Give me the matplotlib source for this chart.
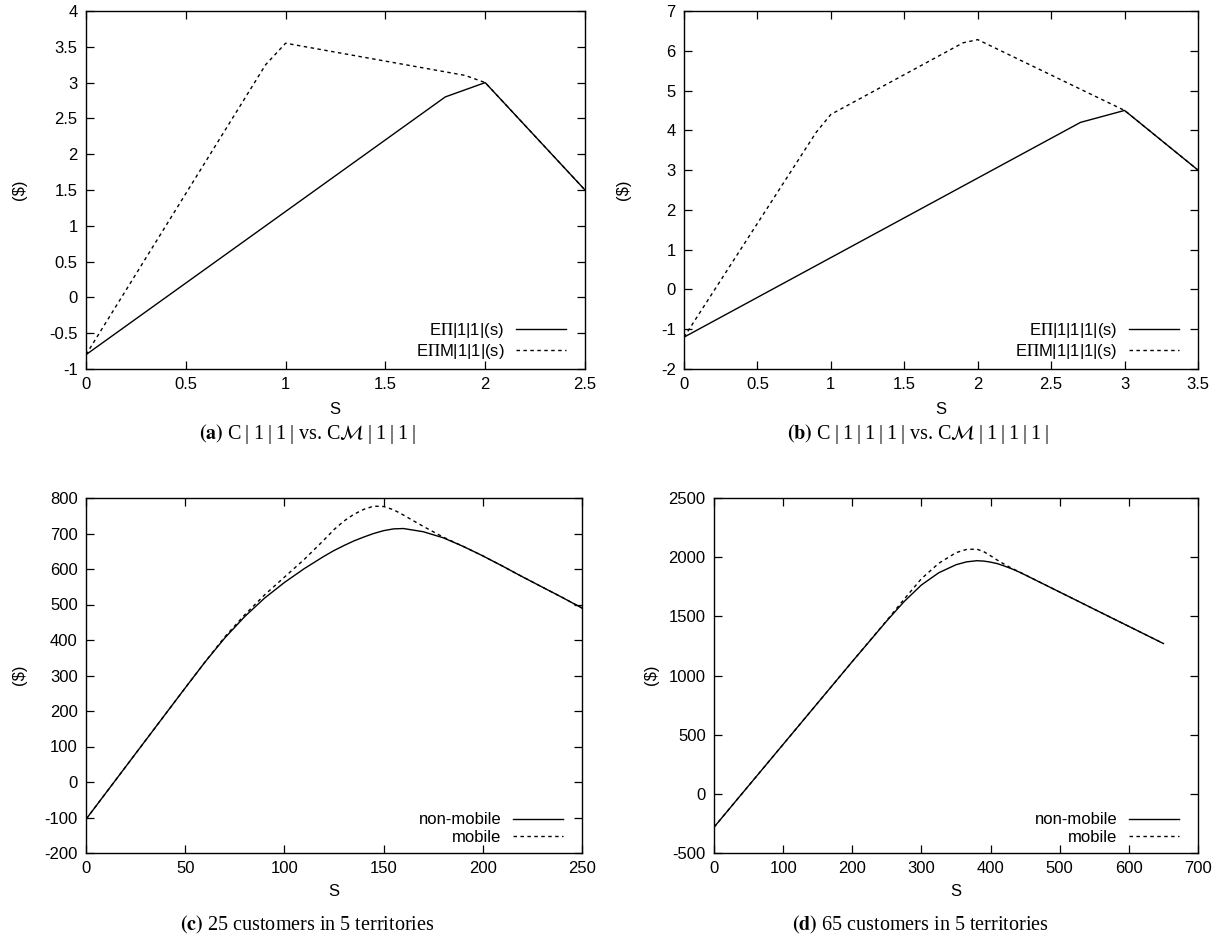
import matplotlib
matplotlib.use("Agg")
import matplotlib.pyplot as plt
from matplotlib.ticker import FuncFormatter
from matplotlib.transforms import ScaledTranslation

plt.rcParams['font.family'] = ['Liberation Sans', 'DejaVu Sans']
plt.rcParams['mathtext.fontset'] = 'stix'
plt.rcParams['axes.unicode_minus'] = False

# (a) C|1|1| vs CM|1|1|
a_s = [0, 1.8, 2, 2.5]
a_non = [-0.8, 2.8, 3, 1.5]
a_mob_s = [0, 0.9, 1, 1.9, 2, 2.5]
a_mob = [-0.8, 3.25, 3.55, 3.1, 3, 1.5]

# (b) C|1|1|1| vs CM|1|1|1|
b_s = [0, 2.7, 3, 3.5]
b_non = [-1.2, 4.2, 4.5, 3.0]
b_mob_s = [0, 0.9, 1, 1.9, 2, 3, 3.5]
b_mob = [-1.2, 3.95, 4.4, 6.2, 6.28, 4.5, 3.0]

# (c) 25 customers in 5 territories
c_s = [0, 10, 20, 30, 40, 50, 60, 70, 80, 90, 100, 110, 120, 125, 130, 135, 140,
       145, 150, 155, 160, 170, 180, 190, 200, 210, 220, 230, 240, 250]
c_non = [-105, -31, 43, 117, 191, 265, 338, 406, 466, 518, 562, 601, 636, 652,
         666, 679, 690, 700, 708, 713, 714, 705, 688, 664, 637, 608, 578, 549,
         520, 490]
c_mob = [-105, -31, 43, 117, 191, 265, 338, 409, 471, 527, 577, 627, 682, 711,
         735, 754, 768, 777, 776, 767, 752, 720, 690, 664, 637, 608, 578, 549,
         520, 490]

# (d) 65 customers in 5 territories
d_s = [0, 50, 100, 150, 200, 250, 275, 300, 325, 350, 365, 380, 390, 400, 410,
       420, 430, 440, 450, 500, 550, 600, 650]
d_non = [-282, 68, 418, 768, 1118, 1462, 1625, 1765, 1868, 1936, 1960, 1970, 1967,
         1958, 1945, 1925, 1903, 1878, 1850, 1705, 1560, 1415, 1270]
d_mob = [-282, 68, 418, 768, 1118, 1466, 1645, 1818, 1948, 2038, 2065, 2068, 2047,
         2012, 1974, 1940, 1908, 1880, 1851, 1705, 1560, 1415, 1270]

W, H = 1227, 942
fig = plt.figure(figsize=(W / 100, H / 100), dpi=100)


def box(left, right, top, bottom):
    return [left / W, 1 - bottom / H, (right - left) / W, (bottom - top) / H]


def style(ax, xlim, ylim, xt, yt):
    ax.set_xlim(xlim)
    ax.set_ylim(ylim)
    ax.set_xticks(xt)
    ax.set_yticks(yt)
    fmt = FuncFormatter(lambda v, p: '%g' % v)
    ax.xaxis.set_major_formatter(fmt)
    ax.yaxis.set_major_formatter(fmt)
    ax.tick_params(direction='in', top=True, right=True, length=6, width=0.9,
                   labelsize=12, pad=6)
    for sp in ax.spines.values():
        sp.set_linewidth(1.0)


def legend(ax, labels):
    off = ScaledTranslation(-19 / 100, 8 / 100, fig.dpi_scale_trans)
    ax.legend(labels, loc='lower right', frameon=False, markerfirst=False,
              fontsize=12, handlelength=3.0, handletextpad=0.7,
              labelspacing=0.15, borderaxespad=0, borderpad=0,
              bbox_to_anchor=(1, 0), bbox_transform=ax.transAxes + off)


dash = (0, (2.5, 2.5))
lw = 1.0

ax1 = fig.add_axes(box(86, 585, 11, 369))
ax1.plot(a_s, a_non, color='black', lw=lw)
ax1.plot(a_mob_s, a_mob, color='black', lw=lw, linestyle=dash)
style(ax1, (0, 2.5), (-1, 4), [0, 0.5, 1, 1.5, 2, 2.5],
      [-1, -0.5, 0, 0.5, 1, 1.5, 2, 2.5, 3, 3.5, 4])
legend(ax1, [r'E$\Pi$|1|1|(s)', r'E$\Pi$M|1|1|(s)'])

ax2 = fig.add_axes(box(684, 1198, 11, 369))
ax2.plot(b_s, b_non, color='black', lw=lw)
ax2.plot(b_mob_s, b_mob, color='black', lw=lw, linestyle=dash)
style(ax2, (0, 3.5), (-2, 7), [0, 0.5, 1, 1.5, 2, 2.5, 3, 3.5],
      [-2, -1, 0, 1, 2, 3, 4, 5, 6, 7])
legend(ax2, [r'E$\Pi$|1|1|1|(s)', r'E$\Pi$M|1|1|1|(s)'])

ax3 = fig.add_axes(box(86, 582, 498, 853))
ax3.plot(c_s, c_non, color='black', lw=lw)
ax3.plot(c_s, c_mob, color='black', lw=lw, linestyle=dash)
style(ax3, (0, 250), (-200, 800), [0, 50, 100, 150, 200, 250],
      list(range(-200, 801, 100)))
legend(ax3, ['non-mobile', 'mobile'])

ax4 = fig.add_axes(box(714, 1198, 498, 853))
ax4.plot(d_s, d_non, color='black', lw=lw)
ax4.plot(d_s, d_mob, color='black', lw=lw, linestyle=dash)
style(ax4, (0, 700), (-500, 2500), list(range(0, 701, 100)),
      list(range(-500, 2501, 500)))
legend(ax4, ['non-mobile', 'mobile'])


def ftext(x, y, s, **kw):
    fig.text(x / W, 1 - y / H, s, ha='center', va='center', **kw)


# axis titles
for x, y in [(20, 190), (624, 190), (20, 675), (652, 675)]:
    ftext(x, y, '($)', rotation=90, fontsize=12)
for x, y in [(335, 409), (941, 409), (334, 891), (956, 891)]:
    ftext(x, y, 'S', fontsize=12)

# captions
t = '\u2009'
b2 = t + '|' + t + '1' + t + '|' + t + '1' + t + '|'
b3 = t + '|' + t + '1' + t + '|' + t + '1' + t + '|' + t + '1' + t + '|'
cap = dict(fontsize=14.5, family='Liberation Serif')
ftext(307, 434, r'$\mathbf{(a)}$ C' + b2 + ' vs. C$\\mathcal{M}$' + b2, **cap)
ftext(918, 434, r'$\mathbf{(b)}$ C' + b3 + ' vs. C$\\mathcal{M}$' + b3, **cap)
ftext(307, 925, r'$\mathbf{(c)}$ 25 customers in 5 territories', **cap)
ftext(920, 925, r'$\mathbf{(d)}$ 65 customers in 5 territories', **cap)

fig.savefig('out.png', dpi=100)
